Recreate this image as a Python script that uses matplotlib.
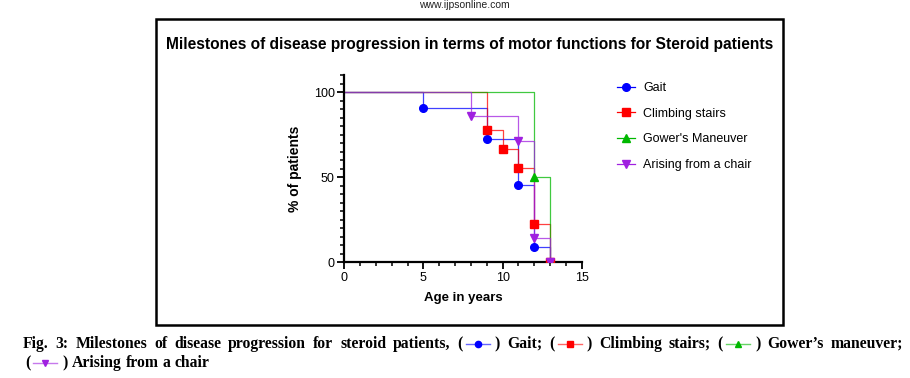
import numpy as np
import matplotlib as mpl
mpl.use('Agg')
import matplotlib.pyplot as plt
from matplotlib.lines import Line2D
from matplotlib.patches import Rectangle

# survival style step data
gait_age = [0, 5, 9, 11, 12, 13]
gait_pct = [100, 90.9, 72.7, 45.5, 9.1, 0]
stairs_age = [0, 9, 10, 11, 12, 13]
stairs_pct = [100, 77.8, 66.7, 55.6, 22.2, 0]
gower_age = [0, 12, 13]
gower_pct = [100, 50, 0]
chair_age = [0, 8, 11, 12, 13]
chair_pct = [100, 85.7, 71.4, 14.3, 0]

labels = ["Gait", "Climbing stairs", "Gower's Maneuver", "Arising from a chair"]
colors = ['#0000ff', '#ff0000', '#00b800', '#a020e0']
markers = ['o', 's', '^', 'v']

W, H = 910, 378
fig = plt.figure(figsize=(W/100, H/100), dpi=100)

# outer frame of the chart image
fig.patches.append(Rectangle((156/W, 1-325/H), (783-156)/W, (325-19)/H,
	transform=fig.transFigure, fill=False, lw=1.8, ec='black'))

fig.text(464/W, 1.0, "www.ijpsonline.com", ha='center', va='top', fontsize=7.5,
	family='Liberation Sans', color='#222222')

fig.text(470/W, 1-45/H, "Milestones of disease progression in terms of motor functions for Steroid patients",
	ha='center', va='center', fontsize=11.2, family='Liberation Sans', fontweight='bold')

ax = fig.add_axes([344.3/W, 1-262.3/H, (581.7-344.3)/W, (262.3-75)/H])

series = [(gower_age, gower_pct, 2), (chair_age, chair_pct, 3),
	(stairs_age, stairs_pct, 1), (gait_age, gait_pct, 0)]
for age, pct, k in series:
	ax.step(age + [age[-1]], pct + [pct[-1]], where='post', color=colors[k], lw=0.9, alpha=0.75, zorder=2+k*0.1)
	ax.plot(age[1:], pct[1:], linestyle='None', marker=markers[k], color=colors[k], ms=5.5, zorder=3+k*0.1)

ax.set_xlim(0, 15)
ax.set_ylim(0, 110)
ax.set_xticks([0, 5, 10, 15])
ax.set_xticks(np.arange(0, 16, 1), minor=True)
ax.set_yticks([0, 50, 100])
ax.set_yticks(np.arange(0, 111, 5), minor=True)
for s in ['top', 'right']:
	ax.spines[s].set_visible(False)
for s in ['left', 'bottom']:
	ax.spines[s].set_linewidth(1.6)
ax.tick_params(which='major', length=5, width=1.3, labelsize=9, pad=2)
ax.tick_params(which='minor', length=3, width=1.1)
for t in ax.get_xticklabels() + ax.get_yticklabels():
	t.set_family('Liberation Sans')
ax.set_xlabel("Age in years", fontsize=9.5, fontweight='bold', family='Liberation Sans', labelpad=6)
ax.set_ylabel("% of patients", fontsize=10, fontweight='bold', family='Liberation Sans', labelpad=8)

handles = [Line2D([], [], color=colors[k], marker=markers[k], ms=5.5, lw=0.9) for k in range(4)]
fig.legend(handles, labels, loc='upper left', bbox_to_anchor=(617/W, 1-82/H), frameon=False,
	prop={'family': 'Liberation Sans', 'size': 9}, handlelength=1.45, handletextpad=0.65,
	labelspacing=1.1, borderpad=0, borderaxespad=0)

# caption below the chart, word-justified like the journal page
renderer = fig.canvas.get_renderer()
cap_font = dict(family=['Liberation Serif', 'DejaVu Sans'], fontweight='bold', fontsize=11.3)

def text_width(s):
	t = fig.text(0, 0, s, **cap_font)
	w = t.get_window_extent(renderer).width
	t.remove()
	return w

def unit_width(unit):
	if isinstance(unit, str):
		return text_width(unit)
	# symbol group: "(", marker, ")"
	return text_width('(') + 3 + 24 + 5 + text_width(')')

def draw_unit(unit, x, y):
	# y is the baseline in pixels from the top
	yf = 1 - y/H
	if isinstance(unit, str):
		fig.text(x/W, yf, unit, va='baseline', ha='left', **cap_font)
		return
	m, col = unit
	ym = 1 - (y-4)/H
	fig.text(x/W, yf, '(', va='baseline', ha='left', **cap_font)
	x += text_width('(') + 3
	fig.lines.append(Line2D([x/W, (x+24)/W], [ym, ym], transform=fig.transFigure,
		color=col, lw=1.0, alpha=0.6))
	fig.lines.append(Line2D([(x+12)/W], [ym], transform=fig.transFigure,
		color=col, marker=m, ms=4.5, lw=0))
	x += 24 + 5
	fig.text(x/W, yf, ')', va='baseline', ha='left', **cap_font)

def caption_line(units, x0, y, x1=None):
	widths = [unit_width(u) for u in units]
	gap = text_width('a b') - text_width('ab')
	if x1 is not None:
		gap = (x1 - x0 - sum(widths)) / (len(units) - 1)
	x = x0
	for u, w in zip(units, widths):
		draw_unit(u, x, y)
		x += w + gap

line1 = "Fig. 3: Milestones of disease progression for steroid patients,".split() + \
	[('o', colors[0]), 'Gait;', ('s', colors[1]), 'Climbing', 'stairs;',
	('^', colors[2]), 'Gower\u2019s', 'maneuver;']
line2 = [('v', colors[3]), 'Arising', 'from', 'a', 'chair']
caption_line(line1, 23, 348, 903)
caption_line(line2, 25, 367)

fig.savefig('out.png', dpi=100)
